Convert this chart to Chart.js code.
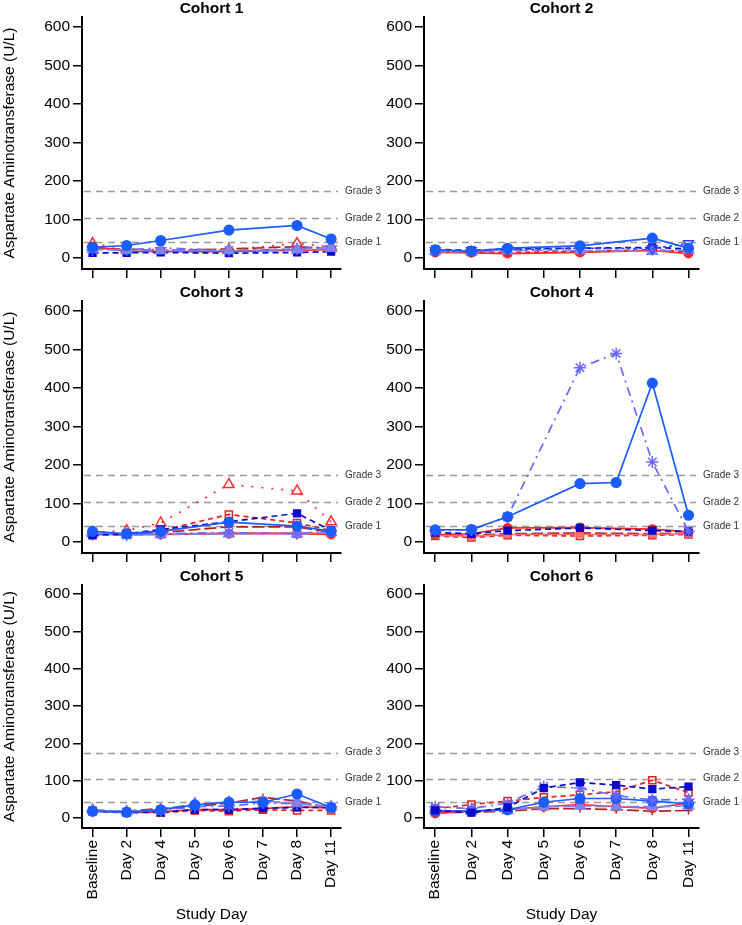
<!DOCTYPE html>
<html>
<head>
<meta charset="utf-8">
<script src="https://cdn.jsdelivr.net/npm/chart.js@4/dist/chart.umd.min.js"></script>
<style>
html, body { margin: 0; padding: 0; background: #fff; }
#wrap { position: relative; width: 742px; height: 925px; overflow: hidden; }
#wrap canvas { position: absolute; }
</style>
</head>
<body>
<div id="wrap"></div>
<script>
// x categories and reference lines
const days = ['Baseline', 'Day 2', 'Day 4', 'Day 5', 'Day 6', 'Day 7', 'Day 8', 'Day 11'];
const yTicks = [0, 100, 200, 300, 400, 500, 600];
const gradeValues = [42, 105, 175];
const gradeLabels = ['Grade 1', 'Grade 2', 'Grade 3'];

// Cohort 1
const c1_blue    = [28, 33, 46, null, 73, null, 85, 50];
const c1_navy    = [14, 14, 15, null, 13, null, 15, 17];
const c1_star    = [22, 22, 27, null, 20, null, 24, 32];
const c1_tri     = [24, 20, 20, null, 20, null, 22, 26];
const c1_red     = [30, 18, 18, null, 17, null, 21, 22];
const c1_redTri  = [38, 24, 22, null, 22, null, 38, 30];
const c1_darkRed = [26, 23, 20, null, 24, null, 30, 24];

// Cohort 2
const c2_blue    = [22, 18, 26, null, 32, null, 52, 26];
const c2_navy    = [23, 20, 24, null, 26, null, 28, 24];
const c2_invTri  = [20, 20, 22, null, 26, null, 25, 38];
const c2_tri     = [18, 16, 20, null, 20, null, 18, 22];
const c2_red     = [15, 14, 12, null, 15, null, 20, 12];
const c2_redSq   = [18, 16, 15, null, 18, null, 22, 17];

// Cohort 3
const c3_blue    = [28, 22, 28, null, 52, null, 42, 28];
const c3_navy    = [18, 22, 33, null, 53, null, 75, 30];
const c3_star    = [20, 18, 22, null, 25, null, 22, 30];
const c3_tri     = [22, 20, 20, null, 22, null, 22, 25];
const c3_red     = [20, 20, 20, null, 22, null, 22, 20];
const c3_pink    = [22, 20, 20, null, 24, null, 24, 22];
const c3_redSq   = [22, 22, 30, null, 72, null, 50, 30];
const c3_redTri  = [25, 30, 50, null, 150, null, 133, 53];
const c3_darkRed = [22, 22, 25, null, 40, null, 40, 25];

// Cohort 4
const c4_blue    = [32, 33, 66, null, 152, 155, 413, 70];
const c4_star    = [30, 32, 66, null, 453, 490, 208, 28];
const c4_navy    = [25, 22, 30, null, 37, null, 30, 28];
const c4_red     = [20, 22, 37, null, 38, null, 34, 27];
const c4_pink    = [18, 15, 20, null, 20, null, 20, 22];
const c4_redSq   = [16, 12, 18, null, 16, null, 18, 20];
const c4_darkRed = [18, 18, 22, null, 24, null, 22, 24];

// Cohort 5
const c5_blue    = [18, 15, 22, 35, 42, 42, 64, 28];
const c5_tri     = [22, 17, 22, 38, 42, 45, 40, 30];
const c5_star    = [18, 16, 20, 30, 32, 40, 38, 30];
const c5_darkRed = [20, 18, 25, 30, 40, 55, 45, 26];
const c5_navy    = [18, 14, 15, 22, 22, 26, 28, 28];
const c5_red     = [18, 16, 16, 22, 22, 25, 30, 26];
const c5_redSq   = [20, 16, 14, 20, 18, 22, 20, 20];

// Cohort 6
const c6_navy    = [20, 14, 28, 80, 95, 88, 77, 84];
const c6_star    = [30, 25, 40, 84, 80, 60, 48, 50];
const c6_redSq   = [25, 36, 45, 55, 62, 70, 101, 68];
const c6_blue    = [18, 18, 22, 42, 52, 52, 45, 38];
const c6_red     = [12, 18, 22, 30, 36, 30, 26, 40];
const c6_tri     = [20, 18, 20, 30, 32, 30, 30, 32];
const c6_darkRed = [15, 15, 18, 25, 25, 22, 18, 20];

const styles = {
  blue:    { color: '#1a5cff', dash: [],           point: 'circle',   r: 4.8 },
  navy:    { color: '#0a0acc', dash: [6, 4],       point: 'rect',     r: 4.8 },
  star:    { color: '#6868ff', dash: [9, 5, 2, 5], point: 'star',     r: 6 },
  tri:     { color: '#8282ec', dash: [12, 4],      point: 'triangle', r: 6 },
  invTri:  { color: '#3344ee', dash: [3, 3],       point: 'triangle', r: 5.5, open: true, rot: 180 },
  red:     { color: '#ff2626', dash: [],           point: 'circle',   r: 4.2 },
  pink:    { color: '#ff7070', dash: [],           point: 'rect',     r: 4.2 },
  redSq:   { color: '#e81e1e', dash: [5, 4],       point: 'rect',     r: 5, open: true },
  redTri:  { color: '#ff3030', dash: [2, 8],       point: 'triangle', r: 6, open: true },
  darkRed: { color: '#b22222', dash: [12, 4],      point: 'cross',    r: 4 }
};

const panels = [
  { title: 'Cohort 1', col: 0, row: 0, series: [['blue', c1_blue], ['tri', c1_tri], ['star', c1_star], ['navy', c1_navy], ['red', c1_red], ['redTri', c1_redTri], ['darkRed', c1_darkRed]] },
  { title: 'Cohort 2', col: 1, row: 0, series: [['blue', c2_blue], ['invTri', c2_invTri], ['tri', c2_tri], ['navy', c2_navy], ['red', c2_red], ['redSq', c2_redSq]] },
  { title: 'Cohort 3', col: 0, row: 1, series: [['blue', c3_blue], ['navy', c3_navy], ['star', c3_star], ['tri', c3_tri], ['red', c3_red], ['pink', c3_pink], ['redSq', c3_redSq], ['redTri', c3_redTri], ['darkRed', c3_darkRed]] },
  { title: 'Cohort 4', col: 1, row: 1, series: [['blue', c4_blue], ['star', c4_star], ['navy', c4_navy], ['red', c4_red], ['pink', c4_pink], ['redSq', c4_redSq], ['darkRed', c4_darkRed]] },
  { title: 'Cohort 5', col: 0, row: 2, series: [['blue', c5_blue], ['tri', c5_tri], ['star', c5_star], ['navy', c5_navy], ['darkRed', c5_darkRed], ['red', c5_red], ['redSq', c5_redSq]] },
  { title: 'Cohort 6', col: 1, row: 2, series: [['navy', c6_navy], ['star', c6_star], ['blue', c6_blue], ['tri', c6_tri], ['redSq', c6_redSq], ['red', c6_red], ['darkRed', c6_darkRed]] }
];

// left canvases are wider so their grade labels can run past the column edge
const cols = [
  { left: 0,   width: 400, yWidth: 82, padRight: 59 },
  { left: 371, width: 371, yWidth: 53, padRight: 43 }
];
const rows = [
  { top: 0,   height: 284, xHeight: 15, yMin: -28, yMax: 626 },
  { top: 284, height: 284, xHeight: 15, yMin: -28, yMax: 626 },
  { top: 568, height: 357, xHeight: 97, yMin: -27, yMax: 624 }
];

const FONT = 'Liberation Sans, Arial, Helvetica, sans-serif';
Chart.defaults.font.family = FONT;
Chart.defaults.color = '#000';

const toPoints = arr => arr.map((v, i) => v === null ? null : { x: i, y: v }).filter(p => p);

function makeDataset(key, values) {
  const s = styles[key];
  return {
    data: toPoints(values),
    borderColor: s.color,
    borderWidth: 1.7,
    borderDash: s.dash,
    pointStyle: s.point,
    pointRadius: s.r,
    pointRotation: s.rot || 0,
    pointBorderColor: s.color,
    pointBorderWidth: 1.5,
    pointBackgroundColor: s.open ? 'rgba(0,0,0,0)' : s.color,
    fill: false,
    tension: 0
  };
}

const decor = {
  id: 'decor',
  beforeDatasetsDraw(chart, args, opts) {
    const { ctx, chartArea: a } = chart;
    const y = chart.scales.y;
    ctx.save();
    ctx.strokeStyle = '#999';
    ctx.lineWidth = 1.5;
    ctx.setLineDash([7, 5]);
    gradeValues.forEach(g => {
      const py = Math.round(y.getPixelForValue(g)) + 0.5;
      ctx.beginPath();
      ctx.moveTo(a.left + 2, py);
      ctx.lineTo(a.right - 3, py);
      ctx.stroke();
    });
    ctx.restore();
  },
  afterDraw(chart, args, opts) {
    const { ctx, chartArea: a } = chart;
    const y = chart.scales.y;
    const cx = (a.left + a.right) / 2;
    ctx.save();
    ctx.fillStyle = '#000';
    ctx.textAlign = 'center';
    ctx.textBaseline = 'middle';
    ctx.font = 'bold 15.5px ' + FONT;
    ctx.fillText(opts.title, cx, a.top - 8);

    ctx.font = '10px ' + FONT;
    ctx.fillStyle = '#333';
    ctx.textAlign = 'left';
    gradeValues.forEach((g, i) => {
      ctx.fillText(gradeLabels[i], a.right + 4, y.getPixelForValue(g));
    });

    ctx.fillStyle = '#000';
    ctx.font = '15.5px ' + FONT;
    ctx.textAlign = 'center';
    if (opts.yTitle) {
      ctx.save();
      ctx.translate(10, (a.top + a.bottom) / 2);
      ctx.rotate(-Math.PI / 2);
      ctx.fillText('Aspartate Aminotransferase (U/L)', 0, 0);
      ctx.restore();
    }
    if (opts.xTitle) {
      ctx.fillText('Study Day', cx, chart.height - 10);
    }
    ctx.restore();
  }
};

const wrap = document.getElementById('wrap');

panels.forEach(p => {
  const c = cols[p.col];
  const r = rows[p.row];
  const canvas = document.createElement('canvas');
  canvas.width = c.width;
  canvas.height = r.height;
  canvas.style.left = c.left + 'px';
  canvas.style.top = r.top + 'px';
  canvas.style.width = c.width + 'px';
  canvas.style.height = r.height + 'px';
  wrap.appendChild(canvas);

  const bottomRow = p.row === 2;

  new Chart(canvas, {
    type: 'line',
    data: { datasets: p.series.map(([k, v]) => makeDataset(k, v)) },
    options: {
      responsive: false,
      animation: false,
      devicePixelRatio: 1,
      layout: { padding: { top: 17, right: c.padRight, left: 0, bottom: 0 } },
      plugins: {
        legend: { display: false },
        tooltip: { enabled: false },
        decor: { title: p.title, yTitle: p.col === 0, xTitle: bottomRow }
      },
      scales: {
        x: {
          type: 'linear',
          min: -0.31,
          max: 7.29,
          afterBuildTicks: s => { s.ticks = days.map((d, i) => ({ value: i })); },
          afterFit: s => { s.height = r.xHeight; },
          ticks: {
            display: bottomRow,
            autoSkip: false,
            minRotation: 90,
            maxRotation: 90,
            padding: 3,
            font: { size: 15.5 },
            callback: v => days[v]
          },
          grid: { drawOnChartArea: false, drawTicks: true, tickLength: 9, color: '#000', lineWidth: 1.5 },
          border: { display: true, color: '#000', width: 2 }
        },
        y: {
          type: 'linear',
          min: r.yMin,
          max: r.yMax,
          afterBuildTicks: s => { s.ticks = yTicks.map(v => ({ value: v })); },
          afterFit: s => { s.width = c.yWidth; },
          ticks: { padding: 3, font: { size: 15.5 } },
          grid: { drawOnChartArea: false, drawTicks: true, tickLength: 9, color: '#000', lineWidth: 1.5 },
          border: { display: true, color: '#000', width: 2 }
        }
      }
    },
    plugins: [decor]
  });
});
</script>
</body>
</html>
